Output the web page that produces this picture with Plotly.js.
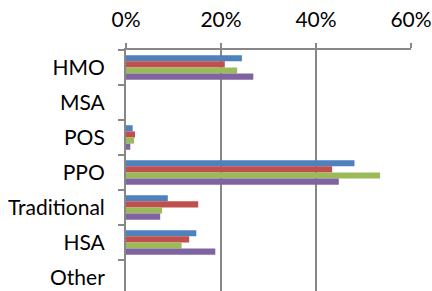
<!DOCTYPE html>
<html><head><meta charset="utf-8">
<script src="https://cdn.plot.ly/plotly-3.0.1.min.js"></script>
<style>html,body{margin:0;padding:0;background:#fff}#c{width:432px;height:291px}</style>
</head><body><div id="c"></div>
<script>
const categories = ["HMO","MSA","POS","PPO","Traditional","HSA","Other"];
const series1 = [24.4, 0, 1.4, 48.1, 8.8, 14.8, 0];
const series2 = [20.8, 0, 1.9, 43.4, 15.2, 13.3, 0];
const series3 = [23.4, 0, 1.7, 53.5, 7.6, 11.7, 0];
const series4 = [26.8, 0, 0.9, 44.8, 7.2, 18.8, 0];
const colors = ["#4F81BD","#C0504D","#9BBB59","#8064A2"];
const tickVals = [0,20,40,60];
const tickLabels = ["0%","20%","40%","60%"];

const data = [series1,series2,series3,series4].map((s,i)=>({
  type:'bar', orientation:'h', x:s, y:categories,
  marker:{color:colors[i], line:{width:0}}, hoverinfo:'none', showlegend:false
}));
const font = {family:'Lato, "Open Sans", sans-serif', size:21, color:'#000'};
const layout = {
  width:432, height:291,
  margin:{l:126, r:20.5, t:50, b:0, pad:0},
  paper_bgcolor:'#fff', plot_bgcolor:'#fff',
  barmode:'group', bargap:0.3, bargroupgap:0,
  font:font,
  xaxis:{side:'top', range:[0,60], tickmode:'array', tickvals:tickVals, ticktext:tickLabels,
    showgrid:true, gridcolor:'#878787', gridwidth:2, zeroline:false,
    showline:true, linecolor:'#878787', linewidth:2,
    ticks:'outside', ticklen:5, tickwidth:2, tickcolor:'#878787',
    ticklabelstandoff:8, tickfont:font, fixedrange:true},
  yaxis:{type:'category', range:[6.386,-0.5], showgrid:false, zeroline:false,
    showline:true, linecolor:'#878787', linewidth:2,
    ticks:'outside', tickson:'boundaries', ticklen:6, tickwidth:2, tickcolor:'#878787',
    ticklabelstandoff:15, tickfont:font, fixedrange:true}
};
Plotly.newPlot('c', data, layout, {displayModeBar:false, staticPlot:true});
</script></body></html>
